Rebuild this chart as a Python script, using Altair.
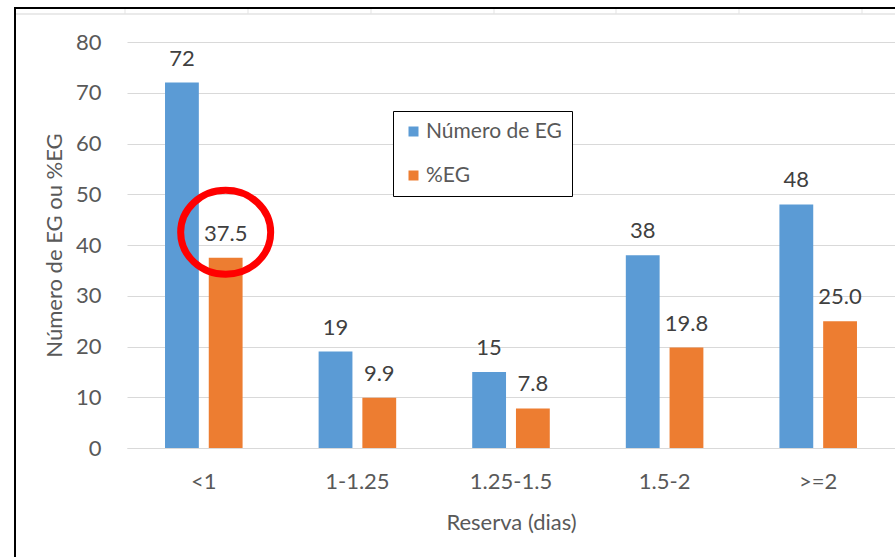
import altair as alt
import pandas as pd

# Values per reserve class
categories = ["<1", "1-1.25", "1.25-1.5", "1.5-2", ">=2"]
numero_eg = [72, 19, 15, 38, 48]
pct_eg = [37.5, 9.9, 7.8, 19.8, 25.0]
series = ["Número de EG", "%EG"]
colors = ["#5B9BD5", "#ED7D31"]
y_ticks = [0, 10, 20, 30, 40, 50, 60, 70, 80]

rows = []
for c, n, p in zip(categories, numero_eg, pct_eg):
    rows.append({"cat": c, "serie": series[0], "valor": n, "rotulo": f"{n:d}"})
    rows.append({"cat": c, "serie": series[1], "valor": p, "rotulo": f"{p:.1f}"})
df = pd.DataFrame(rows)

# highlight ring around the %EG label of the first class
destaque = pd.DataFrame({"cat": [categories[0]], "serie": [series[1]], "valor": [pct_eg[0] + 5]})

FONT = "Lato"
FS = 22
W, H = 768, 406

x_enc = alt.X("cat:N", sort=categories,
              scale=alt.Scale(paddingInner=0.495, paddingOuter=0.2475),
              axis=alt.Axis(title="Reserva (dias)", labelAngle=0, labelFontSize=FS,
                            labelColor="#595959", titleFontSize=FS, titleColor="#595959",
                            titleFontWeight="normal", labelPadding=23, titlePadding=20,
                            ticks=False, domainColor="#d9d9d9", domainWidth=1.2))
xoff_enc = alt.XOffset("serie:N", sort=series, scale=alt.Scale(paddingInner=0.227))
y_scale = alt.Scale(domain=[0, 80], nice=False)

bars = alt.Chart(df).mark_bar().encode(
    x=x_enc,
    xOffset=xoff_enc,
    y=alt.Y("valor:Q", scale=y_scale,
            axis=alt.Axis(title="Número de EG ou %EG", values=y_ticks, labelFontSize=FS,
                          labelColor="#595959", titleFontSize=FS, titleColor="#595959",
                          titleFontWeight="normal", ticks=False, domain=False,
                          gridColor="#d9d9d9", gridWidth=1.2, labelPadding=26,
                          titlePadding=9)),
    color=alt.Color("serie:N", sort=series,
                    scale=alt.Scale(domain=series, range=colors),
                    legend=alt.Legend(title=None, orient="none", legendX=266, legendY=69,
                                      symbolType="square", symbolSize=100,
                                      symbolStrokeWidth=0,
                                      labelFontSize=21, labelColor="#595959",
                                      rowPadding=22, labelOffset=2, padding=10,
                                      strokeColor="black", fillColor="white")),
)

labels = alt.Chart(df).mark_text(fontSize=FS, color="#404040", baseline="alphabetic",
                                 dy=-17, font=FONT).encode(
    x=alt.X("cat:N", sort=categories),
    xOffset=xoff_enc,
    y=alt.Y("valor:Q", scale=y_scale),
    text="rotulo:N",
)

ring_path = "M -1 0 A 1 0.933 0 1 1 1 0 A 1 0.933 0 1 1 -1 0 Z"
circulo = alt.Chart(destaque).mark_point(shape=ring_path, filled=False, stroke="#FF0000",
                                         strokeWidth=7, size=8100, opacity=1).encode(
    x=alt.X("cat:N", sort=categories),
    xOffset=xoff_enc,
    y=alt.Y("valor:Q", scale=y_scale),
)

um = pd.DataFrame({"a": [0]})
# outer frame
frame_left = alt.Chart(um).mark_rule(color="black", strokeWidth=2).encode(
    x=alt.value(-112), y=alt.value(-34), y2=alt.value(H + 120))
frame_top = alt.Chart(um).mark_rule(color="black", strokeWidth=2).encode(
    x=alt.value(-113), x2=alt.value(W + 20), y=alt.value(-34))
# sheet cell lines above the frame
cell_row = alt.Chart(um).mark_rule(color="#e3e3e3", strokeWidth=1.5).encode(
    x=alt.value(-111), x2=alt.value(W + 20), y=alt.value(-28))
cell_cols = [
    alt.Chart(um).mark_rule(color="#e3e3e3", strokeWidth=1).encode(
        x=alt.value(px - 127), y=alt.value(-33), y2=alt.value(-28))
    for px in [125, 248, 371, 494, 616, 739, 862]
]

chart = alt.layer(bars, labels, circulo, frame_left, frame_top, cell_row, *cell_cols).properties(
    width=W, height=H,
    autosize=alt.AutoSizeParams(type="none"),
    padding={"left": 127, "top": 42, "right": 0, "bottom": 109},
    background="white",
).configure_view(stroke=None).configure_axis(
    labelFont=FONT, titleFont=FONT
).configure_legend(labelFont=FONT)

chart.save("out.html", embed_options={"renderer": "svg", "actions": False})
